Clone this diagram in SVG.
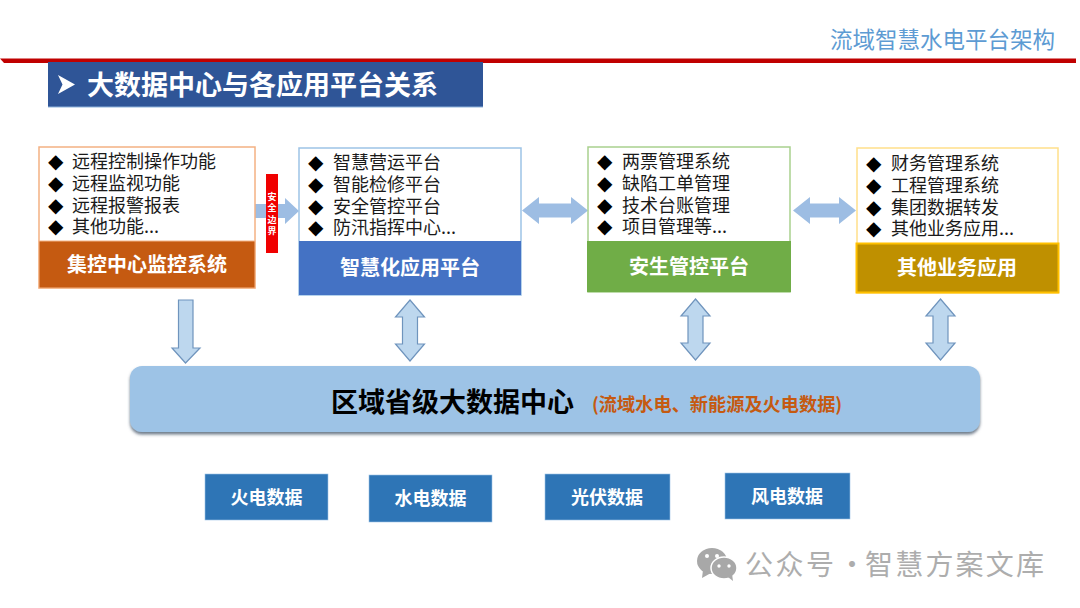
<svg xmlns="http://www.w3.org/2000/svg" width="1080" height="608" viewBox="0 0 1080 608">
  <style>
    text { font-family: "Noto Sans CJK SC", "Liberation Sans", sans-serif; }
    .list { font-size: 18px; fill: #1a1a1a; }
    .dot { font-size: 20px; fill: #000; font-family: "DejaVu Sans", sans-serif; }
    .band { font-size: 20px; font-weight: 700; fill: #fff; text-anchor: middle; }
    .src { font-size: 18px; font-weight: 700; fill: #fff; text-anchor: middle; }
    .src-box { fill: #2e75b6; stroke: #9dc3e6; stroke-width: 0.6; }
    .flow { fill: #9dbde3; }
    .updown { fill: #bdd7ee; stroke: #6f94bd; stroke-width: 1.2; stroke-linejoin: miter; }
    .mark { font-size: 28px; fill: #adadad; }
  </style>
  <defs>
    <filter id="lift" x="-2%" y="-10%" width="104%" height="125%">
      <feDropShadow dx="0" dy="2.5" stdDeviation="1.4" flood-color="#3d4f63" flood-opacity="0.75"/>
    </filter>
    <path id="bothways" d="M0,-30.5 L14.5,-13.5 L7.5,-13.5 L7.5,13.5 L14.5,13.5 L0,30.5 L-14.5,13.5 L-7.5,13.5 L-7.5,-13.5 L-14.5,-13.5 Z"/>
    <path id="sideways" d="M0,13.5 L17,0 L17,6.5 L46,6.5 L46,0 L63,13.5 L46,27 L46,20.5 L17,20.5 L17,27 Z"/>
  </defs>

  <g id="header">
    <text x="830" y="48" font-size="22.5" fill="#5d9bd3">流域智慧水电平台架构</text>
    <path d="M0,58.5 L1076,58.5 L1076,63 L4,63 Z" fill="#c00000"/>
    <rect x="48" y="62" width="435" height="45" fill="#2f5597"/>
    <path d="M48,107 H483" stroke="#8fb4dc" stroke-width="1" fill="none"/>
    <path d="M58,75 L75,84.500 L58,94 L62.500,84.500 Z" fill="#fff"/>
    <text x="87" y="95" font-size="27" font-weight="700" fill="#fff">大数据中心与各应用平台关系</text>
  </g>

  <g id="connectors">
    <path class="flow" d="M254,204 H285 V198 L299,211 L285,224 V218 H254 Z"/>
    <path class="flow" d="M522,210.500 L539,197 V203.500 H571 V197 L588,210.500 L571,224 V217.500 H539 V224 Z"/>
    <use href="#sideways" class="flow" x="793" y="197"/>
    <path class="updown" d="M178.500,300 H193 V348 H200 L185.500,363 L172,348 H178.500 Z"/>
    <use href="#bothways" class="updown" x="410" y="330.500"/>
    <use href="#bothways" class="updown" x="695.500" y="329.500"/>
    <use href="#bothways" class="updown" x="940.500" y="329.500"/>
  </g>

  <g id="boundary">
    <rect x="266" y="174" width="12" height="79" fill="#f00000"/>
    <text font-size="9" font-weight="700" fill="#fff" text-anchor="middle"><tspan x="272" y="200">安</tspan><tspan x="272" y="211">全</tspan><tspan x="272" y="223">边</tspan><tspan x="272" y="234">界</tspan></text>
  </g>

  <g id="monitoring">
    <rect x="39" y="147" width="216" height="141" fill="#fff" stroke="#f4b183" stroke-width="1.5"/>
    <rect x="39" y="241" width="216" height="47" fill="#c55a11" stroke="#f4b183" stroke-width="1"/>
    <text class="band" x="147" y="272">集控中心监控系统</text>
    <text class="list"><tspan class="dot" x="48" y="168">◆</tspan><tspan x="72" y="168">远程控制操作功能</tspan><tspan class="dot" x="48" y="190">◆</tspan><tspan x="72" y="190">远程监视功能</tspan><tspan class="dot" x="48" y="212">◆</tspan><tspan x="72" y="212">远程报警报表</tspan><tspan class="dot" x="48" y="233">◆</tspan><tspan x="72" y="233">其他功能...</tspan></text>
  </g>

  <g id="smart-apps">
    <rect x="299" y="148" width="222" height="147" fill="#fff" stroke="#9dc3e6" stroke-width="1.5"/>
    <rect x="299" y="241" width="222" height="54" fill="#4472c4"/>
    <text class="band" x="410" y="275">智慧化应用平台</text>
    <text class="list"><tspan class="dot" x="308" y="169">◆</tspan><tspan x="333" y="169">智慧营运平台</tspan><tspan class="dot" x="308" y="191">◆</tspan><tspan x="333" y="191">智能检修平台</tspan><tspan class="dot" x="308" y="213">◆</tspan><tspan x="333" y="213">安全管控平台</tspan><tspan class="dot" x="308" y="234">◆</tspan><tspan x="333" y="234">防汛指挥中心...</tspan></text>
  </g>

  <g id="safety">
    <rect x="588" y="147" width="202" height="145" fill="#fff" stroke="#a9d18e" stroke-width="1.5"/>
    <rect x="587" y="241" width="204" height="51" fill="#70ad47"/>
    <text class="band" x="689" y="274">安生管控平台</text>
    <text class="list"><tspan class="dot" x="597" y="168">◆</tspan><tspan x="622" y="168">两票管理系统</tspan><tspan class="dot" x="597" y="190">◆</tspan><tspan x="622" y="190">缺陷工单管理</tspan><tspan class="dot" x="597" y="212">◆</tspan><tspan x="622" y="212">技术台账管理</tspan><tspan class="dot" x="597" y="233">◆</tspan><tspan x="622" y="233">项目管理等...</tspan></text>
  </g>

  <g id="other">
    <rect x="857" y="148" width="201" height="145" fill="#fff" stroke="#ffe08a" stroke-width="1.5"/>
    <rect x="856.500" y="243.500" width="202" height="49" fill="#bf9000" stroke="#ffc000" stroke-width="2"/>
    <text class="band" x="957" y="275">其他业务应用</text>
    <text class="list"><tspan class="dot" x="866" y="170">◆</tspan><tspan x="891" y="170">财务管理系统</tspan><tspan class="dot" x="866" y="192">◆</tspan><tspan x="891" y="192">工程管理系统</tspan><tspan class="dot" x="866" y="214">◆</tspan><tspan x="891" y="214">集团数据转发</tspan><tspan class="dot" x="866" y="235">◆</tspan><tspan x="891" y="235">其他业务应用...</tspan></text>
  </g>

  <g id="data-center">
    <rect x="130" y="366" width="850" height="66" rx="12" fill="#9dc3e6" filter="url(#lift)"/>
    <text x="331" y="412" font-size="27" font-weight="700" fill="#000">区域省级大数据中心</text>
    <text x="592" y="411" font-size="18.200" font-weight="700" fill="#c55a11">(流域水电、新能源及火电数据)</text>
  </g>

  <g id="thermal"><rect class="src-box" x="205" y="474" width="123" height="46"/><text class="src" x="266.500" y="504">火电数据</text></g>
  <g id="hydro"><rect class="src-box" x="369" y="475" width="123" height="47"/><text class="src" x="430.500" y="505">水电数据</text></g>
  <g id="solar"><rect class="src-box" x="545" y="474" width="125" height="46"/><text class="src" x="607" y="504">光伏数据</text></g>
  <g id="wind"><rect class="src-box" x="725" y="473" width="125" height="46"/><text class="src" x="787" y="503">风电数据</text></g>

  <g id="account-mark">
    <ellipse cx="712" cy="561" rx="15" ry="13" fill="#a8a8a8"/>
    <path d="M703,570 L702,578 L711,573 Z" fill="#a8a8a8"/>
    <circle cx="707" cy="556" r="2" fill="#fff"/>
    <circle cx="717" cy="556" r="2" fill="#fff"/>
    <ellipse cx="724" cy="568" rx="13" ry="11" fill="#a8a8a8" stroke="#fff" stroke-width="1.5"/>
    <path d="M728,577 L733,581 L732,574 Z" fill="#a8a8a8"/>
    <circle cx="719" cy="566" r="1.700" fill="#fff"/>
    <circle cx="729" cy="566" r="1.700" fill="#fff"/>
    <text class="mark" y="575"><tspan x="745" letter-spacing="2.500">公众号</tspan><tspan x="838" letter-spacing="0">·</tspan><tspan x="865" letter-spacing="2.200">智慧方案文库</tspan></text>
  </g>
</svg>
